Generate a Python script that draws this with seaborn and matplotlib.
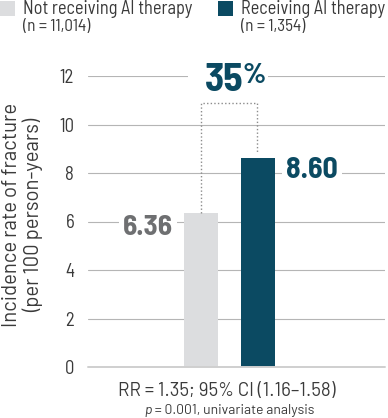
import matplotlib
matplotlib.use("Agg")
import matplotlib.pyplot as plt
from matplotlib.patches import Rectangle
import seaborn as sns
import pandas as pd

groups = ["Not receiving AI therapy", "Receiving AI therapy"]
group_n = ["(n = 11,014)", "(n = 1,354)"]
rates = [6.36, 8.60]
rate_labels = ["6.36", "8.60"]
increase_label = "35"
yticks = [0, 2, 4, 6, 8, 10, 12]
ylabel = "Incidence rate of fracture\n(per 100 person-years)"
stat_line1 = "RR = 1.35; 95% CI (1.16\u20131.58)"
stat_p = "p"
stat_line2 = " = 0.001, univariate analysis"

GRAY = "#dcdddf"
TEAL = "#0b4a62"
TXT = "#3a3a3a"
LBL_GRAY = "#6e6f71"
FONT = "Barlow Semi Condensed"
FONT_W = "Barlow"

sns.set_theme(style="white")
plt.rcParams["font.family"] = [FONT, "DejaVu Sans"]

W, H = 388, 418
fig = plt.figure(figsize=(W / 100, H / 100), dpi=100)
ax = fig.add_axes([88 / W, 1 - 367 / H, (385 - 88) / W, (367 - 76) / H])

df = pd.DataFrame({"group": groups, "rate": rates})
sns.barplot(data=df, x="group", y="rate", hue="group", palette=[GRAY, TEAL],
            width=0.6, saturation=1, legend=False, linewidth=0, ax=ax, zorder=3)

ax.set_xlim(-1.97, 3.21)
ax.set_ylim(0, 12)
ax.set_xticks([])
ax.set_xlabel("")
ax.set_ylabel("")
for s in ax.spines.values():
    s.set_visible(False)
ax.set_yticks(yticks)
ax.set_yticklabels([str(t) for t in yticks])
ax.tick_params(axis="y", length=0, pad=10, labelsize=13.5, labelcolor=TXT)
for t in yticks:
    if t == 0:
        ax.axhline(t, color="#cfcfcf", lw=1.4, zorder=4, clip_on=False)
    else:
        ax.axhline(t, color="#b5b5b5", lw=0.8, zorder=0.5)

# value labels with white background to interrupt gridlines
ax.text(-0.494, rates[0] - 0.6, rate_labels[0], ha="right", va="center", fontsize=21,
        fontweight="bold", color=LBL_GRAY, zorder=5,
        bbox=dict(facecolor="white", edgecolor="none", pad=3))
ax.text(1.49, rates[1] - 0.5, rate_labels[1], ha="left", va="center", fontsize=21.5,
        fontweight="bold", color=TEAL, zorder=5,
        bbox=dict(facecolor="white", edgecolor="none", pad=3))

# dotted bracket
top = max(rates) + 2.3
ax.plot([0, 0, 0.97, 0.97], [rates[0], top, top, rates[1] + 0.25],
        color="#8c8c8c", lw=1.0, linestyle=(0, (1, 1.6)), zorder=4)

# 35% label
ax.add_patch(Rectangle((-0.227, 11.7), 1.4, 0.6, facecolor="white",
                       edgecolor="none", zorder=1, clip_on=False))
ax.text(0.74, 11.38, increase_label, ha="right", va="baseline", fontsize=28.5,
        fontweight="bold", color=TEAL, zorder=5, clip_on=False)
ax.text(0.72, 11.72, "%", ha="left", va="baseline", fontsize=21,
        fontweight="bold", color=TEAL, zorder=5, clip_on=False)

# y label
fig.text(23 / W, 1 - 215 / H, ylabel, rotation=90, ha="center", va="center",
         fontsize=14.6, color=TXT, linespacing=1.1, family=[FONT_W, "DejaVu Sans"])

# legend
colors = [GRAY, TEAL]
lx = [0, 218]
for i in range(2):
    fig.patches.append(Rectangle((lx[i] / W, 1 - 16 / H), 15 / W, 15 / H,
                                 transform=fig.transFigure, facecolor=colors[i],
                                 edgecolor="none"))
    fig.text((lx[i] + 23) / W, 1 - 9 / H, groups[i], ha="left", va="center",
             fontsize=13.2, color=TXT)
    fig.text((lx[i] + 23) / W, 1 - 26.5 / H, group_n[i], ha="left", va="center",
             fontsize=12.3, color=TXT)

# stats text
fig.text(227 / W, 1 - 391 / H, stat_line1, ha="center", va="center",
         fontsize=13.5, color=TXT, family=[FONT_W, "DejaVu Sans"])
tp = fig.text(144 / W, 1 - 414 / H, stat_p, ha="left", va="baseline",
              fontsize=10, style="italic", color=TXT, family=[FONT_W, "DejaVu Sans"])
ax.annotate(stat_line2, xy=(1, 0), xycoords=tp, ha="left", va="bottom",
            fontsize=10, color=TXT, family=[FONT_W, "DejaVu Sans"])

fig.savefig("out.png", dpi=100)
